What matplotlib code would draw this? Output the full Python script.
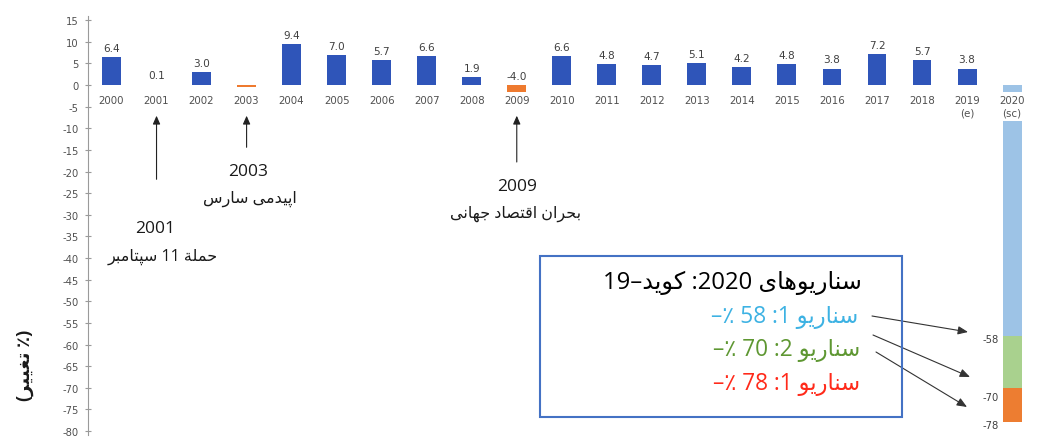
import matplotlib
matplotlib.use('Agg')
import matplotlib.pyplot as plt
from matplotlib.patches import Rectangle

# ---------------- data ----------------
categories = ['2000', '2001', '2002', '2003', '2004', '2005', '2006', '2007', '2008', '2009',
              '2010', '2011', '2012', '2013', '2014', '2015', '2016', '2017', '2018', '2019\n(e)',
              '2020\n(sc)']
growth = [6.4, 0.1, 3.0, -0.4, 9.4, 7.0, 5.7, 6.6, 1.9, -4.0,
          6.6, 4.8, 4.7, 5.1, 4.2, 4.8, 3.8, 7.2, 5.7, 3.8]
value_labels = ['6.4', '0.1', '3.0', '', '9.4', '7.0', '5.7', '6.6', '1.9', '-4.0',
                '6.6', '4.8', '4.7', '5.1', '4.2', '4.8', '3.8', '7.2', '5.7', '3.8']
scenario_values = [-58, -70, -78]
scenario_labels = ['-58', '-70', '-78']
scenario_colors = ['#9DC3E6', '#A9D18E', '#ED7D31']
yticks = list(range(15, -81, -5))

events = [(1, '2001', 'حملة 11 سپتامبر'), (3, '2003', 'اپیدمی سارس'), (9, '2009', 'بحران اقتصاد جهانی')]
box_title = 'سناریوهای 2020: کوید–19'
box_lines = ['سناریو 1: 58 ٪–', 'سناریو 2: 70 ٪–', 'سناریو 1: 78 ٪–']
box_colors = ['#3DB2E3', '#5E9732', '#FF2A1A']
ylabel = '(٪ تغییر)'

# ---------------- Arabic shaping (visual order) ----------------
FORMS = {
    'ا': ('\ufe8d', '\ufe8e', None, None),
    'د': ('\ufea9', '\ufeaa', None, None),
    'ر': ('\ufead', '\ufeae', None, None),
    'و': ('\ufeed', '\ufeee', None, None),
    'ة': ('\ufe93', '\ufe94', None, None),
    'ب': ('\ufe8f', '\ufe90', '\ufe91', '\ufe92'),
    'پ': ('\ufb56', '\ufb57', '\ufb58', '\ufb59'),
    'ت': ('\ufe95', '\ufe96', '\ufe97', '\ufe98'),
    'ج': ('\ufe9d', '\ufe9e', '\ufe9f', '\ufea0'),
    'ح': ('\ufea1', '\ufea2', '\ufea3', '\ufea4'),
    'س': ('\ufeb1', '\ufeb2', '\ufeb3', '\ufeb4'),
    'ص': ('\ufeb9', '\ufeba', '\ufebb', '\ufebc'),
    'غ': ('\ufecd', '\ufece', '\ufecf', '\ufed0'),
    'ق': ('\ufed5', '\ufed6', '\ufed7', '\ufed8'),
    'ک': ('\ufb8e', '\ufb8f', '\ufb90', '\ufb91'),
    'ل': ('\ufedd', '\ufede', '\ufedf', '\ufee0'),
    'م': ('\ufee1', '\ufee2', '\ufee3', '\ufee4'),
    'ن': ('\ufee5', '\ufee6', '\ufee7', '\ufee8'),
    'ه': ('\ufee9', '\ufeea', '\ufeeb', '\ufeec'),
    'ی': ('\ufbfc', '\ufbfd', '\ufbfe', '\ufbff'),
}


def shape_word(w):
    out = []
    n = len(w)
    for i, c in enumerate(w):
        f = FORMS[c]
        pj = i > 0 and FORMS[w[i - 1]][2] is not None
        nj = i < n - 1 and f[2] is not None
        if pj and nj:
            g = f[3]
        elif pj:
            g = f[1]
        elif nj:
            g = f[2]
        else:
            g = f[0]
        out.append(g)
    return ''.join(out)


def rtl(s):
    tokens = []
    for c in s:
        kind = 'a' if c in FORMS else ('d' if (c.isascii() and (c.isdigit() or c == '.')) else 'o')
        if tokens and kind in 'ad' and tokens[-1][0] == kind:
            tokens[-1][1] += c
        else:
            tokens.append([kind, c])
    mirror = {'(': ')', ')': '('}
    out = []
    for k, t in reversed(tokens):
        if k == 'a':
            out.append(shape_word(t)[::-1])
        elif k == 'd':
            out.append(t)
        else:
            out.append(mirror.get(t, t))
    return ''.join(out)


# ---------------- figure ----------------
W, H = 1037, 439
fig = plt.figure(figsize=(W / 100, H / 100), dpi=100)
fig.patch.set_facecolor('white')

px_per_unit = 4.326
x0_px, dx_px = 111.5, 45.03
ylim = (-81, 16)
top_px = 86 - ylim[1] * px_per_unit
bot_px = 86 - ylim[0] * px_per_unit
xlim = (-(x0_px - 88) / dx_px, 20.5)
left_px = 88
right_px = x0_px + xlim[1] * dx_px
ax = fig.add_axes([left_px / W, 1 - bot_px / H, (right_px - left_px) / W, (bot_px - top_px) / H])
ax.set_xlim(*xlim)
ax.set_ylim(*ylim)

LAT = ['DejaVu Sans']
PER = ['Open Sans', 'DejaVu Sans']

# bars
xs = list(range(len(growth)))
colors = ['#2F55B9' if v >= 0 else '#EE7A2F' for v in growth]
ax.bar(xs, growth, width=0.42, color=colors, zorder=2)
bottoms = [0] + scenario_values[:-1]
heights = [scenario_values[i] - bottoms[i] for i in range(len(scenario_values))]
ax.bar([20] * 3, heights, bottom=bottoms, width=0.42, color=scenario_colors, zorder=2)

# value labels
for x, v, lab in zip(xs, growth, value_labels):
    if lab:
        ax.annotate(lab, (x, max(v, 0)), xytext=(0, 3), textcoords='offset points',
                    ha='center', va='bottom', fontsize=7.6, color='#404040', family=LAT, zorder=4)

# category labels with white background
for i, c in enumerate(categories):
    ax.text(i, -2.4, c, ha='center', va='top', fontsize=7.4, color='#505050', family=LAT,
            linespacing=1.3, zorder=5,
            bbox=dict(boxstyle='square,pad=0.3', fc='white', ec='none'))

# scenario value labels
label_y = [-58.6, -72.2, -78.5]
for lab, yy in zip(scenario_labels, label_y):
    ax.text(19.7, yy, lab, ha='right', va='center', fontsize=7.2, color='#404040', family=LAT)

# axes styling
for s in ['top', 'right', 'bottom']:
    ax.spines[s].set_visible(False)
ax.spines['left'].set_color('#9a9a9a')
ax.spines['left'].set_linewidth(0.8)
ax.set_yticks(yticks)
ax.set_yticklabels([str(t) for t in yticks], family=LAT)
ax.tick_params(axis='y', labelsize=7.2, labelcolor='#505050', color='#9a9a9a',
               direction='inout', length=5, width=0.8, pad=4)
ax.set_xticks([])

# event arrows & labels
tails = {1: -21.8, 3: -14.4, 9: -17.8}
label_pos = {1: ((155, 229), (163, 257)), 3: ((248, 172), (250, 199)), 9: ((517, 187), (516, 214))}
for idx, yr, txt in events:
    ax.annotate('', xy=(idx, -7.1), xytext=(idx, tails[idx]),
                arrowprops=dict(arrowstyle='-|>,head_length=0.5,head_width=0.22', color='#222222',
                                lw=0.8, shrinkA=0, shrinkB=0))
    (yx, yy), (tx, ty) = label_pos[idx]
    fig.text(yx / W, 1 - yy / H, yr, ha='center', va='center', fontsize=12.5, color='#1a1a1a', family=PER)
    fig.text(tx / W, 1 - ty / H, rtl(txt), ha='center', va='center', fontsize=11.5, color='#1a1a1a', family=PER)

# y label
fig.text(25 / W, 1 - 365 / H, rtl(ylabel), rotation=90, ha='center', va='center',
         fontsize=13, color='#1a1a1a', family=PER, fontweight='bold')

# scenario box
fig.patches.append(Rectangle((540 / W, 1 - 418 / H), 362 / W, 161 / H, transform=fig.transFigure,
                             fill=False, edgecolor='#4472C4', lw=1.5))
fig.text(862 / W, 1 - 283 / H, rtl(box_title), ha='right', va='center', fontsize=17.2,
         color='#000000', family=PER)
line_pos = [(858, 317), (860, 350), (860, 384)]
for (lx, ly), txt, col in zip(line_pos, box_lines, box_colors):
    fig.text(lx / W, 1 - ly / H, rtl(txt), ha='right', va='center', fontsize=16.3, color=col, family=PER)

arrows = [((872, 317), (968, 333)), ((873, 336), (970, 378)), ((876, 353), (967, 408))]
for (sx, sy), (ex, ey) in arrows:
    ax.annotate('', xy=(ex, H - ey), xycoords='figure pixels', xytext=(sx, H - sy),
                textcoords='figure pixels',
                arrowprops=dict(arrowstyle='-|>,head_length=0.6,head_width=0.25', color='#333333',
                                lw=0.8, shrinkA=0, shrinkB=0), annotation_clip=False)

fig.savefig('out.png', dpi=100, facecolor='white')
